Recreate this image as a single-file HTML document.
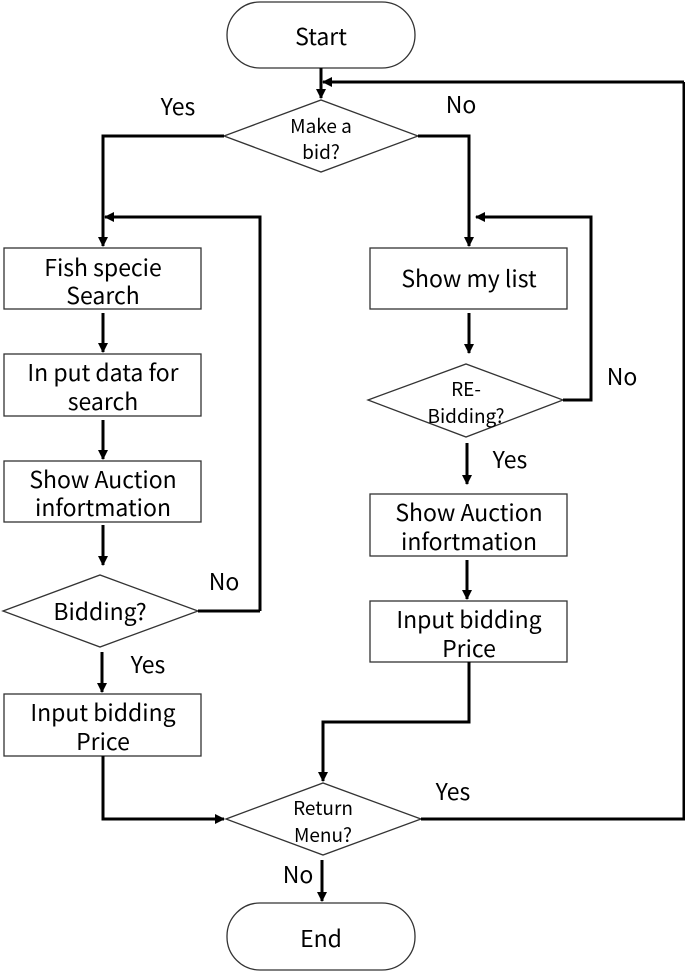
<!DOCTYPE html>
<html><head><meta charset="utf-8"><style>
html,body{margin:0;padding:0;background:#fff;width:685px;height:972px;overflow:hidden}
svg text{font-family:"Noto Sans CJK KR","Liberation Sans",sans-serif;fill:#000;text-anchor:middle}
</style></head><body>
<svg width="685" height="972" viewBox="0 0 685 972" xmlns="http://www.w3.org/2000/svg">
<defs><marker id="a" markerWidth="10" markerHeight="10" refX="9" refY="5" orient="auto" markerUnits="userSpaceOnUse"><path d="M0,0 L10,5 L0,10 z" fill="#000"/></marker></defs>
<g fill="#fff" stroke="#333" stroke-width="1.3">
<rect x="227" y="2" width="188" height="66" rx="33"/>
<rect x="227" y="903" width="188" height="67" rx="33"/>
<polygon points="224,136 321,100 418,136 321,172"/>
<polygon points="3,611 100,575 198,611 100,647"/>
<polygon points="368,400 466,364 563,400 466,437"/>
<polygon points="226,819 323,783 421,819 323,855"/>
<rect x="4" y="248" width="197" height="61"/>
<rect x="4" y="354" width="197" height="62"/>
<rect x="4" y="461" width="197" height="61"/>
<rect x="4" y="694" width="197" height="62"/>
<rect x="370" y="248" width="197" height="61"/>
<rect x="370" y="494" width="197" height="62"/>
<rect x="370" y="601" width="197" height="61"/>
</g>
<g fill="none" stroke="#000" stroke-width="3">
<line x1="321" y1="68" x2="321" y2="98" marker-end="url(#a)"/>
<polyline points="684,82 684,82 323,82" marker-end="url(#a)"/>
<polyline points="224,136 103,136 103,246" marker-end="url(#a)"/>
<polyline points="260,611 260,217 105,217" marker-end="url(#a)"/>
<polyline points="418,136 469,136 469,246" marker-end="url(#a)"/>
<polyline points="563,400 591,400 591,217 476,217" marker-end="url(#a)"/>
<line x1="103" y1="313" x2="103" y2="352" marker-end="url(#a)"/>
<line x1="103" y1="420" x2="103" y2="459" marker-end="url(#a)"/>
<line x1="103" y1="525" x2="103" y2="565" marker-end="url(#a)"/>
<line x1="198" y1="611" x2="260" y2="611"/>
<line x1="102" y1="652" x2="102" y2="692" marker-end="url(#a)"/>
<polyline points="103,756 103,819 224,819" marker-end="url(#a)"/>
<line x1="469" y1="313" x2="469" y2="353" marker-end="url(#a)"/>
<line x1="467" y1="443" x2="467" y2="484" marker-end="url(#a)"/>
<line x1="467" y1="560" x2="467" y2="599" marker-end="url(#a)"/>
<polyline points="469,662 469,722 323,722 323,781" marker-end="url(#a)"/>
<polyline points="421,819 684,819 684,82"/>
<line x1="322" y1="860" x2="322" y2="901" marker-end="url(#a)"/>
</g>
<g font-size="23">
<text x="321" y="45">Start</text>
<text x="321" y="947">End</text>
<text x="103" y="276">Fish specie</text><text x="103" y="304">Search</text>
<text x="103" y="381">In put data for</text><text x="103" y="410">search</text>
<text x="103" y="488">Show Auction</text><text x="103" y="516">infortmation</text>
<text x="103" y="721">Input bidding</text><text x="103" y="750">Price</text>
<text x="469" y="287">Show my list</text>
<text x="469" y="521">Show Auction</text><text x="469" y="550">infortmation</text>
<text x="469" y="628">Input bidding</text><text x="469" y="657">Price</text>
<text x="100" y="620">Bidding?</text>
<text x="178" y="115">Yes</text>
<text x="461" y="113">No</text>
<text x="224" y="590">No</text>
<text x="622" y="385">No</text>
<text x="510" y="468">Yes</text>
<text x="148" y="673">Yes</text>
<text x="453" y="800">Yes</text>
<text x="298" y="883">No</text>
</g>
<g font-size="19">
<text x="321" y="133">Make a</text><text x="321" y="159">bid?</text>
<text x="466" y="396">RE-</text><text x="466" y="423">Bidding?</text>
<text x="323" y="815">Return</text><text x="323" y="842">Menu?</text>
</g>
</svg>
</body></html>
